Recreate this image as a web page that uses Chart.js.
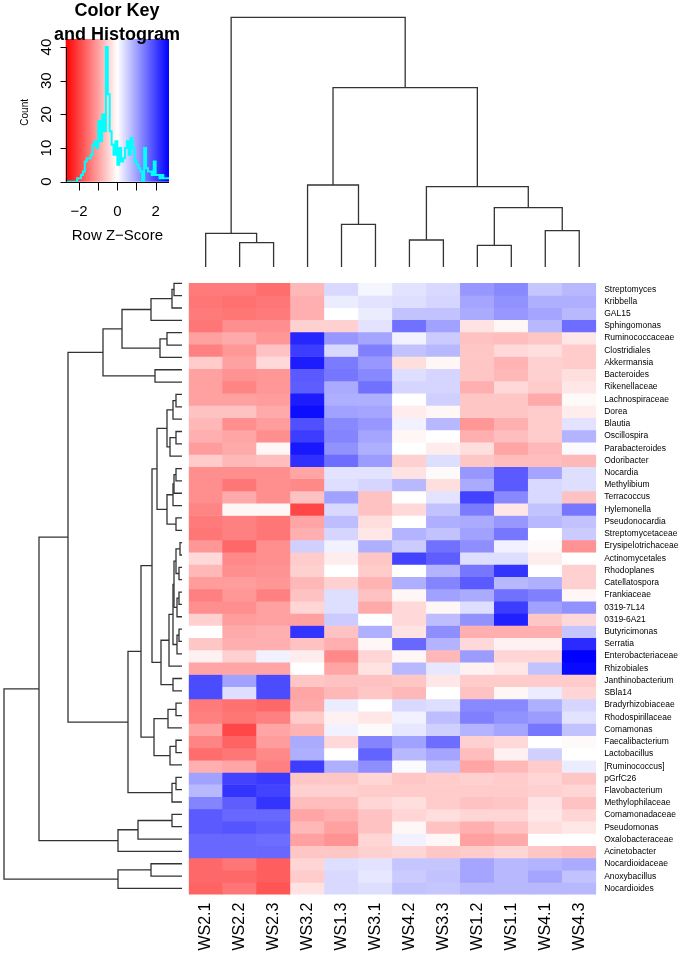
<!DOCTYPE html>
<html>
<head>
<meta charset="utf-8">
<script src="https://cdn.jsdelivr.net/npm/chart.js@4.4.1/dist/chart.umd.min.js"></script>
<style>
  html, body { margin: 0; padding: 0; background: #fff; }
  body { width: 697px; height: 977px; position: relative; overflow: hidden; }
  canvas { position: absolute; }
</style>
</head>
<body>
<canvas id="key" width="200" height="250" style="left:0;top:0"></canvas>
<canvas id="colDendro" width="414" height="270" style="left:186px;top:0"></canvas>
<canvas id="rowDendro" width="186" height="625" style="left:0;top:273px"></canvas>
<canvas id="heat" width="511" height="707" style="left:186px;top:270px"></canvas>
<script>
// columns (samples) in the order they appear after clustering
const colLabels = ['WS2.1', 'WS2.2', 'WS2.3', 'WS3.2', 'WS1.3', 'WS3.1', 'WS4.2', 'WS3.3', 'WS1.2', 'WS1.1', 'WS4.1', 'WS4.3'];

const rowLabels = [
  'Streptomyces', 'Kribbella', 'GAL15', 'Sphingomonas', 'Ruminococcaceae', 'Clostridiales', 'Akkermansia',
  'Bacteroides', 'Rikenellaceae', 'Lachnospiraceae', 'Dorea', 'Blautia', 'Oscillospira', 'Parabacteroides',
  'Odoribacter', 'Nocardia', 'Methylibium', 'Terracoccus', 'Hylemonella', 'Pseudonocardia', 'Streptomycetaceae',
  'Erysipelotrichaceae', 'Actinomycetales', 'Rhodoplanes', 'Catellatospora', 'Frankiaceae', '0319-7L14',
  '0319-6A21', 'Butyricimonas', 'Serratia', 'Enterobacteriaceae', 'Rhizobiales', 'Janthinobacterium', 'SBla14',
  'Bradyrhizobiaceae', 'Rhodospirillaceae', 'Comamonas', 'Faecalibacterium', 'Lactobacillus', '[Ruminococcus]',
  'pGrfC26', 'Flavobacterium', 'Methylophilaceae', 'Comamonadaceae', 'Pseudomonas', 'Oxalobacteraceae',
  'Acinetobacter', 'Nocardioidaceae', 'Anoxybacillus', 'Nocardioides'
];

// row z-scores, one row per taxon, columns in colLabels order
const zScores = [
  [-1.4, -1.4, -1.55, -0.75, 0.4, 0.1, 0.3, 0.4, 1.1, 1.25, 0.6, 0.75],
  [-1.45, -1.5, -1.45, -0.85, 0.2, 0.3, 0.35, 0.45, 0.95, 1.15, 0.85, 0.85],
  [-1.4, -1.45, -1.4, -0.85, 0, 0.2, 0.65, 0.65, 0.9, 1.1, 0.95, 0.75],
  [-1.45, -1.2, -1.2, -0.5, -0.5, 0.3, 1.5, 1.0, -0.3, -0.1, 0.75, 1.55],
  [-1.0, -0.9, -1.1, 2.3, 1.1, 0.95, 0.15, 0.55, -0.65, -0.7, -0.6, -0.25],
  [-1.35, -1.1, -0.65, 2.05, 0.4, 1.35, 0.65, 0.75, -0.6, -0.4, -0.35, -0.55],
  [-0.55, -1.0, -0.4, 2.4, 1.4, 1.1, -0.35, -0.1, -0.6, -0.8, -0.5, -0.55],
  [-1.0, -1.15, -1.1, 1.75, 1.45, 1.25, 0.35, 0.45, -0.6, -0.75, -0.5, -0.35],
  [-1.0, -1.3, -1.1, 1.7, 0.9, 1.5, 0.45, 0.45, -0.85, -0.4, -0.55, -0.25],
  [-1.0, -1.0, -1.05, 2.4, 0.85, 0.85, 0, 0.5, -0.6, -0.6, -0.9, -0.05],
  [-0.65, -0.65, -0.9, 2.55, 1.0, 0.95, -0.2, -0.1, -0.6, -0.6, -0.55, -0.2],
  [-0.75, -1.2, -1.05, 1.85, 1.25, 1.1, 0.15, 0.75, -1.1, -0.85, -0.55, 0.3],
  [-0.85, -0.95, -1.2, 2.05, 1.3, 0.95, -0.1, 0, -0.85, -0.7, -0.55, 0.8],
  [-1.05, -0.9, -0.1, 2.45, 1.15, 0.85, 0, -0.2, -0.35, -0.95, -0.75, 0.05],
  [-0.55, -0.75, -0.7, 2.2, 1.55, 1.05, -0.5, 0.35, -0.6, -0.7, -0.7, -0.75],
  [-1.2, -1.2, -1.2, -0.95, 0.3, 0.3, -0.3, -0.05, 1.1, 1.75, 0.95, 0.35],
  [-1.2, -1.45, -1.2, -1.25, 0.35, 0.45, 0.75, -0.35, 0.9, 1.75, 0.4, 0.35],
  [-1.2, -0.9, -1.2, -0.65, 1.0, -0.65, 0, 0.3, 2.0, 1.25, 0.4, -0.65],
  [-1.3, -0.1, -0.1, -1.95, 0.4, -0.65, -0.4, 0.65, 1.4, -0.25, 0.65, 1.45],
  [-1.4, -1.35, -1.45, -0.95, 0.7, -0.35, 0, 0.85, 0.9, 1.1, 0.75, 0.65],
  [-1.45, -1.35, -1.45, -0.85, 0.45, -0.25, 0.8, 0.65, 1.0, 1.45, 0, 0.55],
  [-1.1, -1.6, -1.2, 0.5, 0.15, 0.85, 0.55, 1.5, 1.2, 0.15, -0.05, -1.15],
  [-0.4, -1.25, -1.2, -0.55, -0.2, -0.6, 2.0, 1.7, 0.35, 0.35, -0.2, 0],
  [-0.75, -1.2, -1.15, -0.5, 0, -0.55, 0, 0.8, 1.45, 2.15, 0, -0.5],
  [-1.05, -1.05, -1.1, -0.75, -0.5, -0.8, 0.85, 1.3, 1.75, 0.75, 0.85, -0.5],
  [-1.35, -1.1, -1.35, -0.65, 0.35, -0.65, -0.1, 1.0, 0.9, 1.5, 1.35, -0.1],
  [-1.2, -1.2, -1.0, -0.45, 0.35, -0.9, -0.4, -0.1, 0.35, 2.05, 1.0, 1.15],
  [-0.5, -1.05, -1.0, -1.0, 0.55, 0, -0.4, 0.7, 1.15, 2.35, -0.6, -0.4],
  [0, -0.9, -0.85, 2.15, -0.65, 0.85, -0.3, 1.2, -0.85, -0.85, -0.85, 0.6],
  [-0.6, -0.85, -0.85, -0.65, -0.85, -0.1, 1.6, 0.8, -0.4, -0.15, -0.15, 2.25],
  [-0.15, -0.5, 0.15, -0.2, -1.25, -0.45, -0.1, -0.75, 1.05, -0.45, -0.45, 2.7],
  [-0.95, -0.95, -0.95, 0, -0.95, -0.3, 0.75, 0.25, -0.15, -0.25, 0.65, 2.6],
  [1.9, 1.0, 1.9, -0.6, -0.65, -0.65, -0.6, -0.25, -0.55, -0.55, -0.55, -0.55],
  [1.9, 0.35, 1.9, -0.95, -0.75, -0.6, -0.75, 0, -0.65, -0.1, 0.2, -0.45],
  [-1.4, -1.5, -1.6, -0.9, 0.2, 0, 0.4, 0.35, 1.25, 1.25, 0.85, 0.45],
  [-1.35, -1.45, -1.35, -0.55, -0.15, -0.25, 0.15, 0.7, 1.35, 1.15, 1.05, 0.3],
  [-1.0, -1.95, -0.95, -0.8, 0.15, -0.05, 0.25, 0.5, 0.8, 0.95, 1.45, 0.65],
  [-1.3, -1.65, -1.05, 0.9, -0.4, 1.3, 1.0, 1.55, -0.5, -0.4, 0, -0.05],
  [-1.55, -1.45, -1.25, 0.85, 0, 1.65, 0.75, 0.95, -0.7, -0.15, 0.5, 0],
  [-0.85, -0.95, -1.35, 2.05, 0.85, 1.2, 0.05, 0.65, -0.95, -0.75, -0.55, 0.2],
  [1.0, 2.0, 2.1, -0.6, -0.6, -0.45, -0.6, -0.55, -0.5, -0.55, -0.45, -0.6],
  [0.75, 2.15, 2.0, -0.5, -0.5, -0.55, -0.55, -0.55, -0.55, -0.55, -0.5, -0.45],
  [1.3, 1.7, 2.15, -0.7, -0.7, -0.45, -0.35, -0.55, -0.65, -0.6, -0.3, -0.65],
  [1.75, 1.6, 1.6, -0.95, -0.85, -0.65, -0.45, -0.35, -0.45, -0.45, -0.25, -0.45],
  [1.75, 1.8, 1.7, -0.75, -1.0, -0.65, -0.1, -0.65, -0.85, -0.65, -0.35, -0.25],
  [1.6, 1.6, 1.55, -1.0, -1.15, -0.45, 0.15, -0.1, -1.0, -0.9, 0, 0],
  [1.6, 1.6, 1.6, -0.6, -0.6, -0.5, -0.45, -0.6, -0.55, -0.45, -0.6, -0.7],
  [-1.6, -1.45, -1.7, -0.45, 0.35, 0.3, 0.6, 0.6, 0.95, 0.75, 0.8, 0.9],
  [-1.6, -1.6, -1.7, -0.55, 0.4, 0.25, 0.55, 0.65, 0.95, 0.75, 0.95, 0.65],
  [-1.65, -1.45, -1.8, -0.3, 0.4, 0.35, 0.65, 0.6, 0.75, 0.75, 0.75, 0.75]
];

// dendrograms: [left, right, mergeHeight]; numbers are leaf positions (0-based)
const colTree = [[0, [1, 2, 24.3], 33.7],
  [[3, [4, 5, 42.7], 82], [[6, 7, 27], [[8, 9, 21.7], [10, 11, 36.3], 59.3], 80.3], 179.3], 249.7];

const rowTree = [
  [
    [
      [[[[[0, 1, 8], 2, 10], 3, 31], [[4, 5, 15], 6, 22], 60], [7, 8, 27], 79],
      [
        [
          [
            [[[[9, 10, 6], 11, 9], [[12, 13, 6], 14, 12], 15], [[[[15, 16, 6], 17, 8], 18, 9], [19, 20, 6], 15], 25],
            [[[[[[21, 22, 2], [23, 24, 3], 6], [[25, 26, 3], 27, 5], 8], [[28, 29, 3], 30, 5], 9], 31, 13], [32, 33, 9], 21],
            30
          ],
          [[[34, 35, 6], 36, 14], [[37, 38, 6], 39, 12], 28],
          41
        ],
        [[40, 41, 6], 42, 10],
        54
      ],
      114
    ],
    [[[43, 44, 10], 45, 44], 46, 64],
    143
  ],
  [[47, 48, 31], 49, 64],
  178
];

// colour key histogram (bin width 0.1 starting at -2.7)
const histStart = -2.7;
const histBin = 0.1;
const histCounts = [0, 0, 0, 0, 0, 0, 1, 1, 2, 3, 6, 7, 7, 8, 11, 12, 10, 18, 12, 20, 15, 40, 26, 15, 11, 8, 12,
  5, 10, 6, 7, 10, 12, 8, 13, 10, 6, 5, 4, 3, 0, 10, 4, 3, 3, 2, 6, 2, 2, 1, 2, 1, 1, 1];
const countTicks = [0, 10, 20, 30, 40];
const zTicks = [-2, -1, 0, 1, 2];
const zTickLabels = [-2, 0, 2];

const FONT = 'Liberation Sans, Arial, Helvetica, sans-serif';
Chart.defaults.font.family = FONT;
Chart.defaults.color = '#000';

const zMax = 2.7;
function zColor(z) {
  const t = Math.min(1, Math.abs(z) / zMax);
  const c = Math.round(255 * (1 - t));
  return z < 0 ? `rgb(255,${c},${c})` : `rgb(${c},${c},255)`;
}

function treeSegments(node, out) {
  if (typeof node === 'number') return { pos: node + 1, h: 0 };
  const L = treeSegments(node[0], out);
  const R = treeSegments(node[1], out);
  const h = node[2];
  out.push([[L.pos, L.h], [L.pos, h], [R.pos, h], [R.pos, R.h]]);
  return { pos: (L.pos + R.pos) / 2, h: h };
}

const baseOpts = {
  responsive: false,
  animation: false,
  events: [],
  plugins: { legend: { display: false }, tooltip: { enabled: false } }
};

// ---- column dendrogram
const colSegs = [];
treeSegments(colTree, colSegs);
new Chart(document.getElementById('colDendro'), {
  type: 'scatter',
  data: {
    datasets: colSegs.map(s => ({
      data: s.map(p => ({ x: p[0], y: p[1] })),
      showLine: true, borderColor: '#333', borderWidth: 1.3, pointRadius: 0, clip: false
    }))
  },
  options: Object.assign({}, baseOpts, {
    layout: { padding: { left: 2.7, right: 3.8, top: 0, bottom: 3 } },
    scales: {
      x: { type: 'linear', display: false, min: 0.5, max: 12.5 },
      y: { type: 'linear', display: false, min: 0, max: 267 }
    }
  })
});

// ---- row dendrogram
const rowSegs = [];
treeSegments(rowTree, rowSegs);
new Chart(document.getElementById('rowDendro'), {
  type: 'scatter',
  data: {
    datasets: rowSegs.map(s => ({
      data: s.map(p => ({ x: p[1], y: p[0] })),
      showLine: true, borderColor: '#333', borderWidth: 1.3, pointRadius: 0, clip: false
    }))
  },
  options: Object.assign({}, baseOpts, {
    layout: { padding: { left: 4, right: 4, top: 4.1, bottom: 3.4 } },
    scales: {
      x: { type: 'linear', display: false, min: 0, max: 178, reverse: true },
      y: { type: 'linear', display: false, min: 0.5, max: 50.5, reverse: true }
    }
  })
});

// ---- heatmap
new Chart(document.getElementById('heat'), {
  type: 'bar',
  data: {
    labels: colLabels,
    datasets: rowLabels.map((name, i) => ({
      label: name,
      data: colLabels.map(() => 1),
      backgroundColor: zScores[i].map(zColor),
      borderWidth: 0,
      barPercentage: 1,
      categoryPercentage: 1
    }))
  },
  options: Object.assign({}, baseOpts, {
    layout: { padding: { left: 2.7, top: 7.1, right: 0, bottom: 0 } },
    scales: {
      x: {
        type: 'category', stacked: true, offset: true,
        grid: { display: false, drawTicks: false, tickLength: 0 },
        border: { display: false },
        ticks: { autoSkip: false, minRotation: 90, maxRotation: 90, padding: 8, font: { size: 16 }, color: '#000' },
        afterFit(s) { s.height = 82.4; }
      },
      y: { type: 'linear', stacked: true, min: 0, max: 50, reverse: true, display: false },
      yLab: {
        type: 'category', labels: rowLabels, position: 'right', offset: true,
        grid: { display: false, drawTicks: false, tickLength: 0 },
        border: { display: false },
        ticks: { autoSkip: false, padding: 8, font: { size: 8.5 }, color: '#000' },
        afterFit(s) { s.width = 100.8; }
      }
    }
  })
});

// ---- colour key with histogram
const keyDecor = {
  id: 'keyDecor',
  beforeDatasetsDraw(chart) {
    const { ctx, chartArea: a } = chart;
    const g = ctx.createLinearGradient(a.left, 0, a.right, 0);
    g.addColorStop(0, '#ff0000');
    g.addColorStop(0.5, '#ffffff');
    g.addColorStop(1, '#0000ff');
    ctx.save();
    ctx.fillStyle = g;
    ctx.fillRect(a.left, a.top, a.right - a.left, a.bottom - a.top);
    ctx.restore();
  },
  afterDraw(chart) {
    const { ctx, chartArea: a, scales: { x, y } } = chart;
    ctx.save();
    ctx.strokeStyle = '#000';
    ctx.fillStyle = '#000';
    ctx.lineWidth = 1;
    const ax = Math.round(a.left) + 0.5;
    const ay = Math.round(a.bottom) + 0.5;
    ctx.beginPath();
    ctx.moveTo(ax, y.getPixelForValue(countTicks[0]));
    ctx.lineTo(ax, y.getPixelForValue(countTicks[countTicks.length - 1]));
    countTicks.forEach(v => {
      const py = Math.round(y.getPixelForValue(v)) + 0.5;
      ctx.moveTo(ax, py); ctx.lineTo(ax - 6, py);
    });
    ctx.moveTo(a.left, ay); ctx.lineTo(a.right, ay);
    zTicks.forEach(v => {
      const px = Math.round(x.getPixelForValue(v)) + 0.5;
      ctx.moveTo(px, ay); ctx.lineTo(px, ay + 8);
    });
    ctx.stroke();

    ctx.font = '15px ' + FONT;
    ctx.textAlign = 'center';
    ctx.textBaseline = 'middle';
    countTicks.forEach(v => {
      ctx.save();
      ctx.translate(ax - 20, y.getPixelForValue(v));
      ctx.rotate(-Math.PI / 2);
      ctx.fillText(String(v), 0, 0);
      ctx.restore();
    });
    zTickLabels.forEach(v => ctx.fillText(v < 0 ? '\u2212' + (-v) : String(v), x.getPixelForValue(v), ay + 29));
    ctx.fillText('Row Z\u2212Score', x.getPixelForValue(0), ay + 53);

    ctx.font = '10px ' + FONT;
    ctx.save();
    ctx.translate(25, (a.top + a.bottom) / 2 + 2);
    ctx.rotate(-Math.PI / 2);
    ctx.fillText('Count', 0, 0);
    ctx.restore();

    ctx.font = 'bold 18px ' + FONT;
    ctx.textBaseline = 'alphabetic';
    ctx.fillText('Color Key', 117, 16);
    ctx.fillText('and Histogram', 117, 39.5);
    ctx.restore();
  }
};

const histPoints = histCounts.map((c, i) => ({ x: histStart + i * histBin, y: c }));
histPoints.push({ x: histStart + histCounts.length * histBin, y: histCounts[histCounts.length - 1] });

new Chart(document.getElementById('key'), {
  type: 'scatter',
  data: {
    datasets: [{
      data: histPoints,
      showLine: true, stepped: 'before',
      borderColor: '#00ffff', borderWidth: 2, pointRadius: 0, clip: false
    }]
  },
  options: Object.assign({}, baseOpts, {
    layout: { padding: { left: 65.7, right: 31, top: 39, bottom: 68.3 } },
    scales: {
      x: { type: 'linear', display: false, min: -2.7, max: 2.7 },
      y: { type: 'linear', display: false, min: 0, max: 42.4 }
    }
  }),
  plugins: [keyDecor]
});
</script>
</body>
</html>
